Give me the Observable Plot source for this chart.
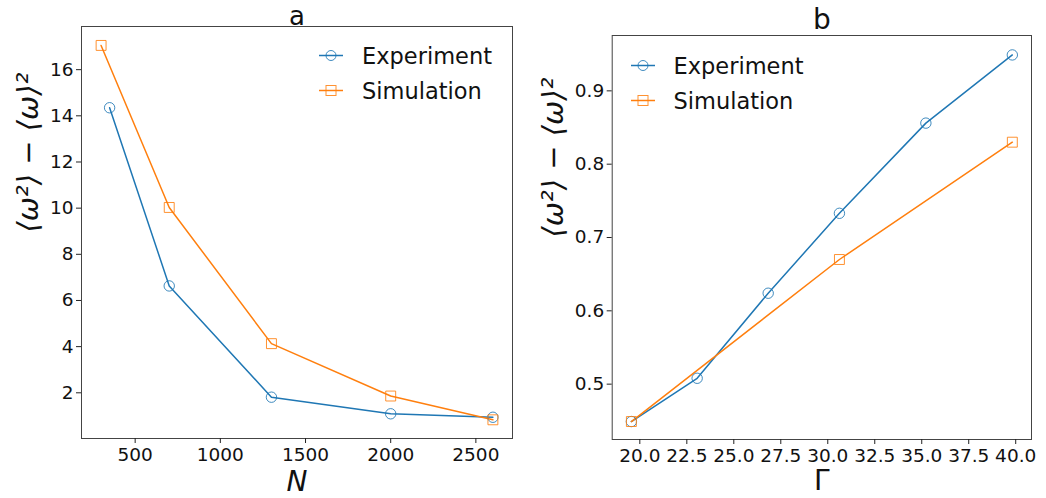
<!DOCTYPE html>
<html>
<head>
<meta charset="utf-8">
<script src="https://cdn.jsdelivr.net/npm/d3@7"></script>
<script src="https://cdn.jsdelivr.net/npm/@observablehq/plot@0.6"></script>
<style>
  html, body { margin: 0; padding: 0; background: #fff; }
  #wrap { position: relative; width: 1046px; height: 498px; font-family: "DejaVu Sans", sans-serif; }
  .panel { position: absolute; top: 0; }
  .legend { position: absolute; font-family: "DejaVu Sans", sans-serif; font-size: 22.5px; color: #111; }
  .legend .row { display: flex; align-items: center; height: 35px; }
  .legend svg { display: block; margin-right: 19px; }
</style>
</head>
<body>
<div id="wrap"></div>
<script>
// ---- Data ----
const seriesNames = ["Experiment", "Simulation"];
const seriesColors = ["#1f77b4", "#ff7f0e"];

// Panel a: variance vs N
const aExpN = [350, 700, 1300, 2000, 2600];
const aExpV = [14.35, 6.63, 1.81, 1.09, 0.94];
const aSimN = [300, 700, 1300, 2000, 2600];
const aSimV = [17.05, 10.03, 4.13, 1.86, 0.83];
const aXTicks = [500, 1000, 1500, 2000, 2500];
const aYTicks = [2, 4, 6, 8, 10, 12, 14, 16];

// Panel b: variance vs Gamma
const bExpG = [19.55, 23.05, 26.83, 30.62, 35.22, 39.82];
const bExpV = [0.449, 0.508, 0.624, 0.733, 0.856, 0.949];
const bSimG = [19.55, 30.62, 39.82];
const bSimV = [0.449, 0.670, 0.830];
const bXTicks = [20, 22.5, 25, 27.5, 30, 32.5, 35, 37.5, 40];
const bYTicks = [0.5, 0.6, 0.7, 0.8, 0.9];

const yLabel = "⟨ω²⟩ − ⟨ω⟩²";

function toRows(xs, ys, name) { return xs.map((x, i) => ({x, y: ys[i], s: name})); }

function panel({exp, sim, xDomain, yDomain, xTicks, yTicks, xFmt, yFmt, title, titleSize, xLabel, xItalic,
                 mLeft, mRight, mTop, mBottom, yLabelDx, titleDy, xLabelDy}) {
  const font = {fontFamily: "DejaVu Sans"};
  return Plot.plot({
    width: 523, height: 498,
    marginLeft: mLeft, marginRight: mRight, marginTop: mTop, marginBottom: mBottom,
    style: {fontFamily: "DejaVu Sans", fontSize: "18px", color: "#111", background: "transparent", overflow: "visible"},
    x: {domain: xDomain},
    y: {domain: yDomain},
    marks: [
      Plot.frame({stroke: "#444", strokeWidth: 1}),
      Plot.axisX({ticks: xTicks, tickFormat: xFmt, tickSize: 5, tickPadding: 4, fontSize: 18.5, label: null, stroke: "#222"}),
      Plot.axisY({ticks: yTicks, tickFormat: yFmt, tickSize: 5, tickPadding: 3, fontSize: 18.5, label: null, stroke: "#222"}),
      Plot.line(exp, {x: "x", y: "y", stroke: seriesColors[0], strokeWidth: 1.5}),
      Plot.line(sim, {x: "x", y: "y", stroke: seriesColors[1], strokeWidth: 1.5}),
      Plot.dot(exp, {x: "x", y: "y", r: 5.2, stroke: seriesColors[0], fill: "none", strokeWidth: 1, strokeOpacity: 0.85}),
      Plot.dot(sim, {x: "x", y: "y", r: 5.6, symbol: "square", stroke: seriesColors[1], fill: "none", strokeWidth: 1, strokeOpacity: 0.85}),
      Plot.text([title], {text: d => d, frameAnchor: "top", dy: titleDy, lineAnchor: "middle", fontSize: titleSize, fill: "#111", ...font}),
      Plot.text([xLabel], {text: d => d, frameAnchor: "bottom", dy: xLabelDy, lineAnchor: "middle", fontSize: 28, fill: "#111", fontStyle: xItalic ? "italic" : "normal", ...font}),
      Plot.text([yLabel], {text: d => d, frameAnchor: "left", dx: yLabelDx, rotate: -90, lineAnchor: "middle", fontSize: 29, fill: "#111", fontStyle: "italic", ...font})
    ]
  });
}

const wrap = document.getElementById("wrap");

const pa = panel({
  exp: toRows(aExpN, aExpV, seriesNames[0]),
  sim: toRows(aSimN, aSimV, seriesNames[1]),
  xDomain: [185, 2715], yDomain: [0.02, 17.87],
  xTicks: aXTicks, yTicks: aYTicks, xFmt: d3.format("d"), yFmt: d3.format("d"),
  title: "a", titleSize: 26, xLabel: "N", xItalic: true,
  mLeft: 81, mRight: 11, mTop: 26, mBottom: 60,
  yLabelDx: -53, titleDy: -10, xLabelDy: 44
});
pa.classList.add("panel"); pa.style.left = "0px";
wrap.appendChild(pa);

const pb = panel({
  exp: toRows(bExpG, bExpV, seriesNames[0]),
  sim: toRows(bSimG, bSimV, seriesNames[1]),
  xDomain: [18.53, 40.84], yDomain: [0.4245, 0.9755],
  xTicks: bXTicks, yTicks: bYTicks, xFmt: d3.format(".1f"), yFmt: d3.format(".1f"),
  title: "b", titleSize: 28, xLabel: "Γ", xItalic: false,
  mLeft: 88.7, mRight: 15, mTop: 35, mBottom: 59,
  yLabelDx: -58, titleDy: -15, xLabelDy: 42
});
pb.classList.add("panel"); pb.style.left = "523px";
wrap.appendChild(pb);

// ---- Legends (HTML) ----
function legend(left, top) {
  const div = document.createElement("div");
  div.className = "legend";
  div.style.left = left + "px";
  div.style.top = top + "px";
  seriesNames.forEach((name, i) => {
    const row = document.createElement("div");
    row.className = "row";
    const c = seriesColors[i];
    const marker = i === 0
      ? `<circle cx="12" cy="17.5" r="5" fill="none" stroke="${c}" stroke-width="1" stroke-opacity="0.85"/>`
      : `<rect x="7" y="12.5" width="10" height="10" fill="none" stroke="${c}" stroke-width="1" stroke-opacity="0.85"/>`;
    row.innerHTML = `<svg width="24" height="35"><line x1="0" x2="24" y1="17.5" y2="17.5" stroke="${c}" stroke-width="1.5"/>${marker}</svg><span>${name}</span>`;
    div.appendChild(row);
  });
  wrap.appendChild(div);
}
legend(319, 38);
legend(630.5, 48);
</script>
</body>
</html>
